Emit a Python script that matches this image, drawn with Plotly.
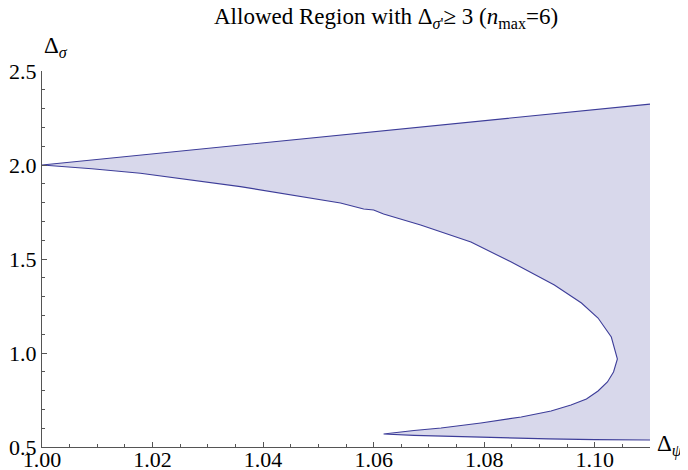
import plotly.graph_objects as go

# Outer (upper) boundary of the allowed region
outer_psi = [1.00, 1.055, 1.11]
outer_sigma = [2.000, 2.161, 2.324]

# Inner boundary (from (1,2) down around the nose to the lower tip)
inner_psi = [1.0000, 1.0090, 1.0178, 1.0359, 1.0540, 1.0582, 1.0600, 1.0618, 1.0685,
             1.0776, 1.0849, 1.0927, 1.0976, 1.1006, 1.1030, 1.1041, 1.1034, 1.1023,
             1.1006, 1.0985, 1.0957, 1.0921, 1.0867, 1.0794, 1.0722, 1.0673, 1.0618]
inner_sigma = [2.000, 1.980, 1.956, 1.885, 1.798, 1.766, 1.761, 1.739, 1.681,
               1.590, 1.484, 1.362, 1.266, 1.186, 1.085, 0.968, 0.899, 0.846,
               0.798, 0.755, 0.723, 0.691, 0.660, 0.628, 0.601, 0.588, 0.569]

# Bottom boundary (from lower tip to the right edge)
bottom_psi = [1.0618, 1.0673, 1.0794, 1.0916, 1.1000, 1.11]
bottom_sigma = [0.569, 0.562, 0.551, 0.543, 0.539, 0.537]

x_ticks = [1.00, 1.02, 1.04, 1.06, 1.08, 1.10]
y_ticks = [0.5, 1.0, 1.5, 2.0, 2.5]

# Path: outer line right->left, inner curve, bottom line to the right
path_x = outer_psi[::-1] + inner_psi[1:] + bottom_psi[1:]
path_y = outer_sigma[::-1] + inner_sigma[1:] + bottom_sigma[1:]

LINE = "rgb(61,61,153)"
FILL = "rgb(216,216,235)"
FONT = "Liberation Serif"

fig = go.Figure()
fig.add_trace(go.Scatter(x=path_x, y=path_y, mode="lines", fill="toself",
                         fillcolor=FILL, line=dict(width=0), hoverinfo="skip",
                         showlegend=False))
fig.add_trace(go.Scatter(x=path_x, y=path_y, mode="lines",
                         line=dict(color=LINE, width=1.1), showlegend=False))

axis_common = dict(showline=True, linecolor="#555", linewidth=1, ticks="inside",
                   tickcolor="#555", ticklen=5, showgrid=False, zeroline=False,
                   automargin=False,
                   tickfont=dict(family=FONT, size=22, color="black"))

fig.update_xaxes(range=[1.0, 1.11], tickvals=x_ticks,
                 ticktext=[f"{v:.2f}" for v in x_ticks],
                 ticklabelstandoff=-7,
                 minor=dict(ticks="inside", ticklen=3, dtick=0.005, tick0=1.0,
                            tickcolor="#555", showgrid=False),
                 **axis_common)
fig.update_yaxes(range=[0.5, 2.5], tickvals=y_ticks,
                 ticktext=[f"{v:.1f}" for v in y_ticks],
                 minor=dict(ticks="inside", ticklen=3, dtick=0.1, tick0=0.5,
                            tickcolor="#555", showgrid=False),
                 **axis_common)

fig.add_annotation(text="Allowed Region with Δ<sub><i>σ</i>'</sub>≥ 3 (<i>n</i><sub>max</sub>=6)",
                   xref="paper", yref="paper", x=0.566, y=1.141,
                   xanchor="center", yanchor="middle", showarrow=False,
                   font=dict(family=FONT, size=23, color="black"))
fig.add_annotation(text="Δ<sub><i>σ</i></sub>", xref="paper", yref="paper",
                   x=0.0, y=1.064, xanchor="left", yanchor="middle",
                   showarrow=False,
                   font=dict(family=FONT, size=23, color="black"))
fig.add_annotation(text="Δ<sub><i>ψ</i></sub>", xref="paper", yref="paper",
                   x=1.008, y=0.003, xanchor="left", yanchor="middle",
                   showarrow=False,
                   font=dict(family=FONT, size=23, color="black"))

# The page body has an 8px margin; the figure is sized to fit the window.
fig.update_layout(width=680, height=462, autosize=False,
                  template="none",
                  font=dict(family=FONT, color="black"),
                  margin=dict(l=34, r=38, t=63, b=23),
                  plot_bgcolor="white", paper_bgcolor="white")

fig.write_html("out.html")
